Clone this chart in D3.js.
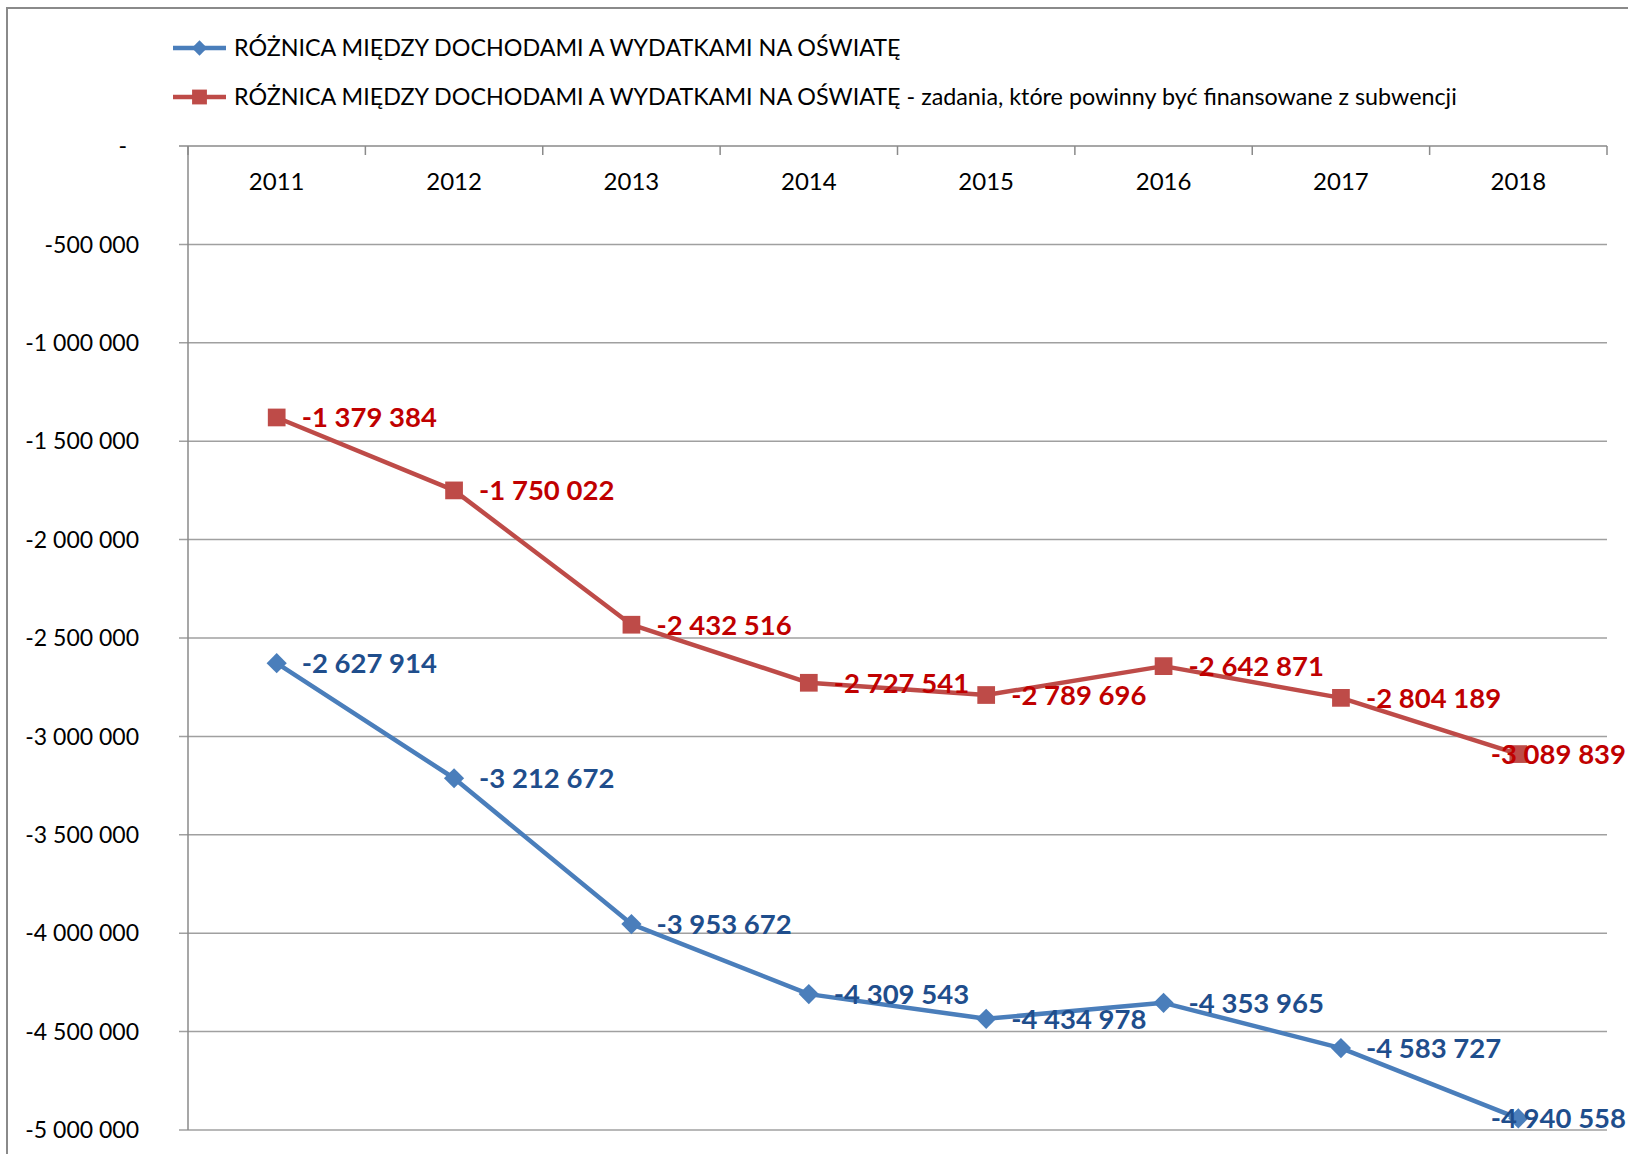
<!DOCTYPE html>
<html>
<head>
<meta charset="utf-8">
<script src="https://cdnjs.cloudflare.com/ajax/libs/d3/7.8.5/d3.min.js"></script>
<style>
  body { margin: 0; background: #fff; }
  svg { display: block; font-family: Lato, "Open Sans", sans-serif; }
</style>
</head>
<body>
<svg id="chart" width="1628" height="1154"></svg>
<script>
// years on the category axis
const years = ["2011", "2012", "2013", "2014", "2015", "2016", "2017", "2018"]
// difference between education revenue and spending
const totalDiff = [-2627914, -3212672, -3953672, -4309543, -4434978, -4353965, -4583727, -4940558]
// same difference, tasks that should be financed from the subsidy
const subsidyDiff = [-1379384, -1750022, -2432516, -2727541, -2789696, -2642871, -2804189, -3089839]
const yTicks = [0, -500000, -1000000, -1500000, -2000000, -2500000, -3000000, -3500000, -4000000, -4500000, -5000000]
const seriesNames = [
  "RÓŻNICA MIĘDZY DOCHODAMI A WYDATKAMI NA OŚWIATĘ",
  "RÓŻNICA MIĘDZY DOCHODAMI A WYDATKAMI NA OŚWIATĘ - zadania, które powinny być finansowane z subwencji"
]

const svg = d3.select("#chart")
const width = +svg.attr("width")
const height = +svg.attr("height")
const margins = {left: 188, right: 21, top: 146, bottom: 24}

// outer chart border (right and bottom edges fall outside the picture)
svg.append("rect")
  .attr("x", 7).attr("y", 8)
  .attr("width", width + 20).attr("height", height + 20)
  .attr("fill", "none").attr("stroke", "#8a8a8a").attr("stroke-width", 2)

const x = d3.scaleBand()
  .domain(years)
  .range([margins.left, width - margins.right])
  .paddingInner(0).paddingOuter(0)
const y = d3.scaleLinear()
  .domain([-5000000, 0])
  .range([height - margins.bottom, margins.top])

const fmt = v => v === 0 ? "-" : d3.format(",")(v).replace(/,/g, " ").replace("−", "-")
const fmtLabel = v => d3.format(",")(v).replace(/,/g, " ").replace("−", "-")

// horizontal gridlines + y axis ticks
svg.append("g").selectAll("line")
  .data(yTicks)
  .join("line")
  .attr("x1", margins.left - 9)
  .attr("x2", width - margins.right)
  .attr("y1", d => y(d)).attr("y2", d => y(d))
  .attr("stroke", d => d === 0 ? "#8a8a8a" : "#a0a0a0")
  .attr("stroke-width", 1.5)

svg.append("g").selectAll("text")
  .data(yTicks)
  .join("text")
  .attr("x", d => d === 0 ? 127 : 139)
  .attr("y", d => y(d))
  .attr("dy", "0.36em")
  .attr("text-anchor", "end")
  .attr("font-size", 23)
  .attr("fill", "#000")
  .text(fmt)

// y axis line
svg.append("line")
  .attr("x1", margins.left).attr("x2", margins.left)
  .attr("y1", y(0)).attr("y2", y(-5000000))
  .attr("stroke", "#8a8a8a").attr("stroke-width", 1.5)

// category ticks along the top axis
const boundaries = years.map(d => x(d)).concat([x(years[years.length - 1]) + x.bandwidth()])
svg.append("g").selectAll("line")
  .data(boundaries)
  .join("line")
  .attr("x1", d => d).attr("x2", d => d)
  .attr("y1", y(0)).attr("y2", y(0) + 9)
  .attr("stroke", "#8a8a8a").attr("stroke-width", 1.5)

svg.append("g").selectAll("text")
  .data(years)
  .join("text")
  .attr("x", d => x(d) + x.bandwidth() / 2)
  .attr("y", y(0) + 44)
  .attr("text-anchor", "middle")
  .attr("font-size", 24)
  .attr("fill", "#000")
  .text(d => d)

const series = [
  {name: seriesNames[0], values: totalDiff, color: "#4a7ebb", labelColor: "#1f4e8c", marker: "diamond"},
  {name: seriesNames[1], values: subsidyDiff, color: "#be4b48", labelColor: "#c00000", marker: "square"}
]

const markerPath = (type) => type === "diamond"
  ? d3.symbol(d3.symbolDiamond2, 260)()
  : d3.symbol(d3.symbolSquare2, 400)()

const line = d3.line()
  .x((d, i) => x(years[i]) + x.bandwidth() / 2)
  .y(d => y(d))

series.forEach(s => {
  const g = svg.append("g")
  g.append("path")
    .attr("d", line(s.values))
    .attr("fill", "none")
    .attr("stroke", s.color)
    .attr("stroke-width", 4.5)
    .attr("stroke-linejoin", "round")
  g.selectAll("path.mk")
    .data(s.values)
    .join("path")
    .attr("class", "mk")
    .attr("d", markerPath(s.marker))
    .attr("transform", (d, i) => `translate(${x(years[i]) + x.bandwidth() / 2},${y(d)})`)
    .attr("fill", s.color)
  // data labels to the right of the points, pushed back inside the chart if needed
  g.selectAll("text")
    .data(s.values)
    .join("text")
    .attr("y", d => y(d))
    .attr("dy", "0.36em")
    .attr("font-size", 27.5)
    .attr("font-weight", "bold")
    .attr("fill", s.labelColor)
    .text(fmtLabel)
    .each(function(d, i) {
      const w = this.getComputedTextLength()
      let tx = x(years[i]) + x.bandwidth() / 2 + 25
      if (tx + w > width - 2) tx = width - 2 - w
      d3.select(this).attr("x", tx)
    })
})

// legend
const legend = svg.append("g")
series.forEach((s, i) => {
  const ly = 48 + i * 49
  legend.append("line")
    .attr("x1", 173).attr("x2", 226)
    .attr("y1", ly).attr("y2", ly)
    .attr("stroke", s.color).attr("stroke-width", 4.5)
  legend.append("path")
    .attr("d", s.marker === "diamond" ? d3.symbol(d3.symbolDiamond2, 150)() : d3.symbol(d3.symbolSquare2, 280)())
    .attr("transform", `translate(199.5,${ly})`)
    .attr("fill", s.color)
  legend.append("text")
    .attr("x", 234).attr("y", ly)
    .attr("dy", "0.36em")
    .attr("font-size", 23.3)
    .attr("fill", "#000")
    .text(s.name)
})
</script>
</body>
</html>
